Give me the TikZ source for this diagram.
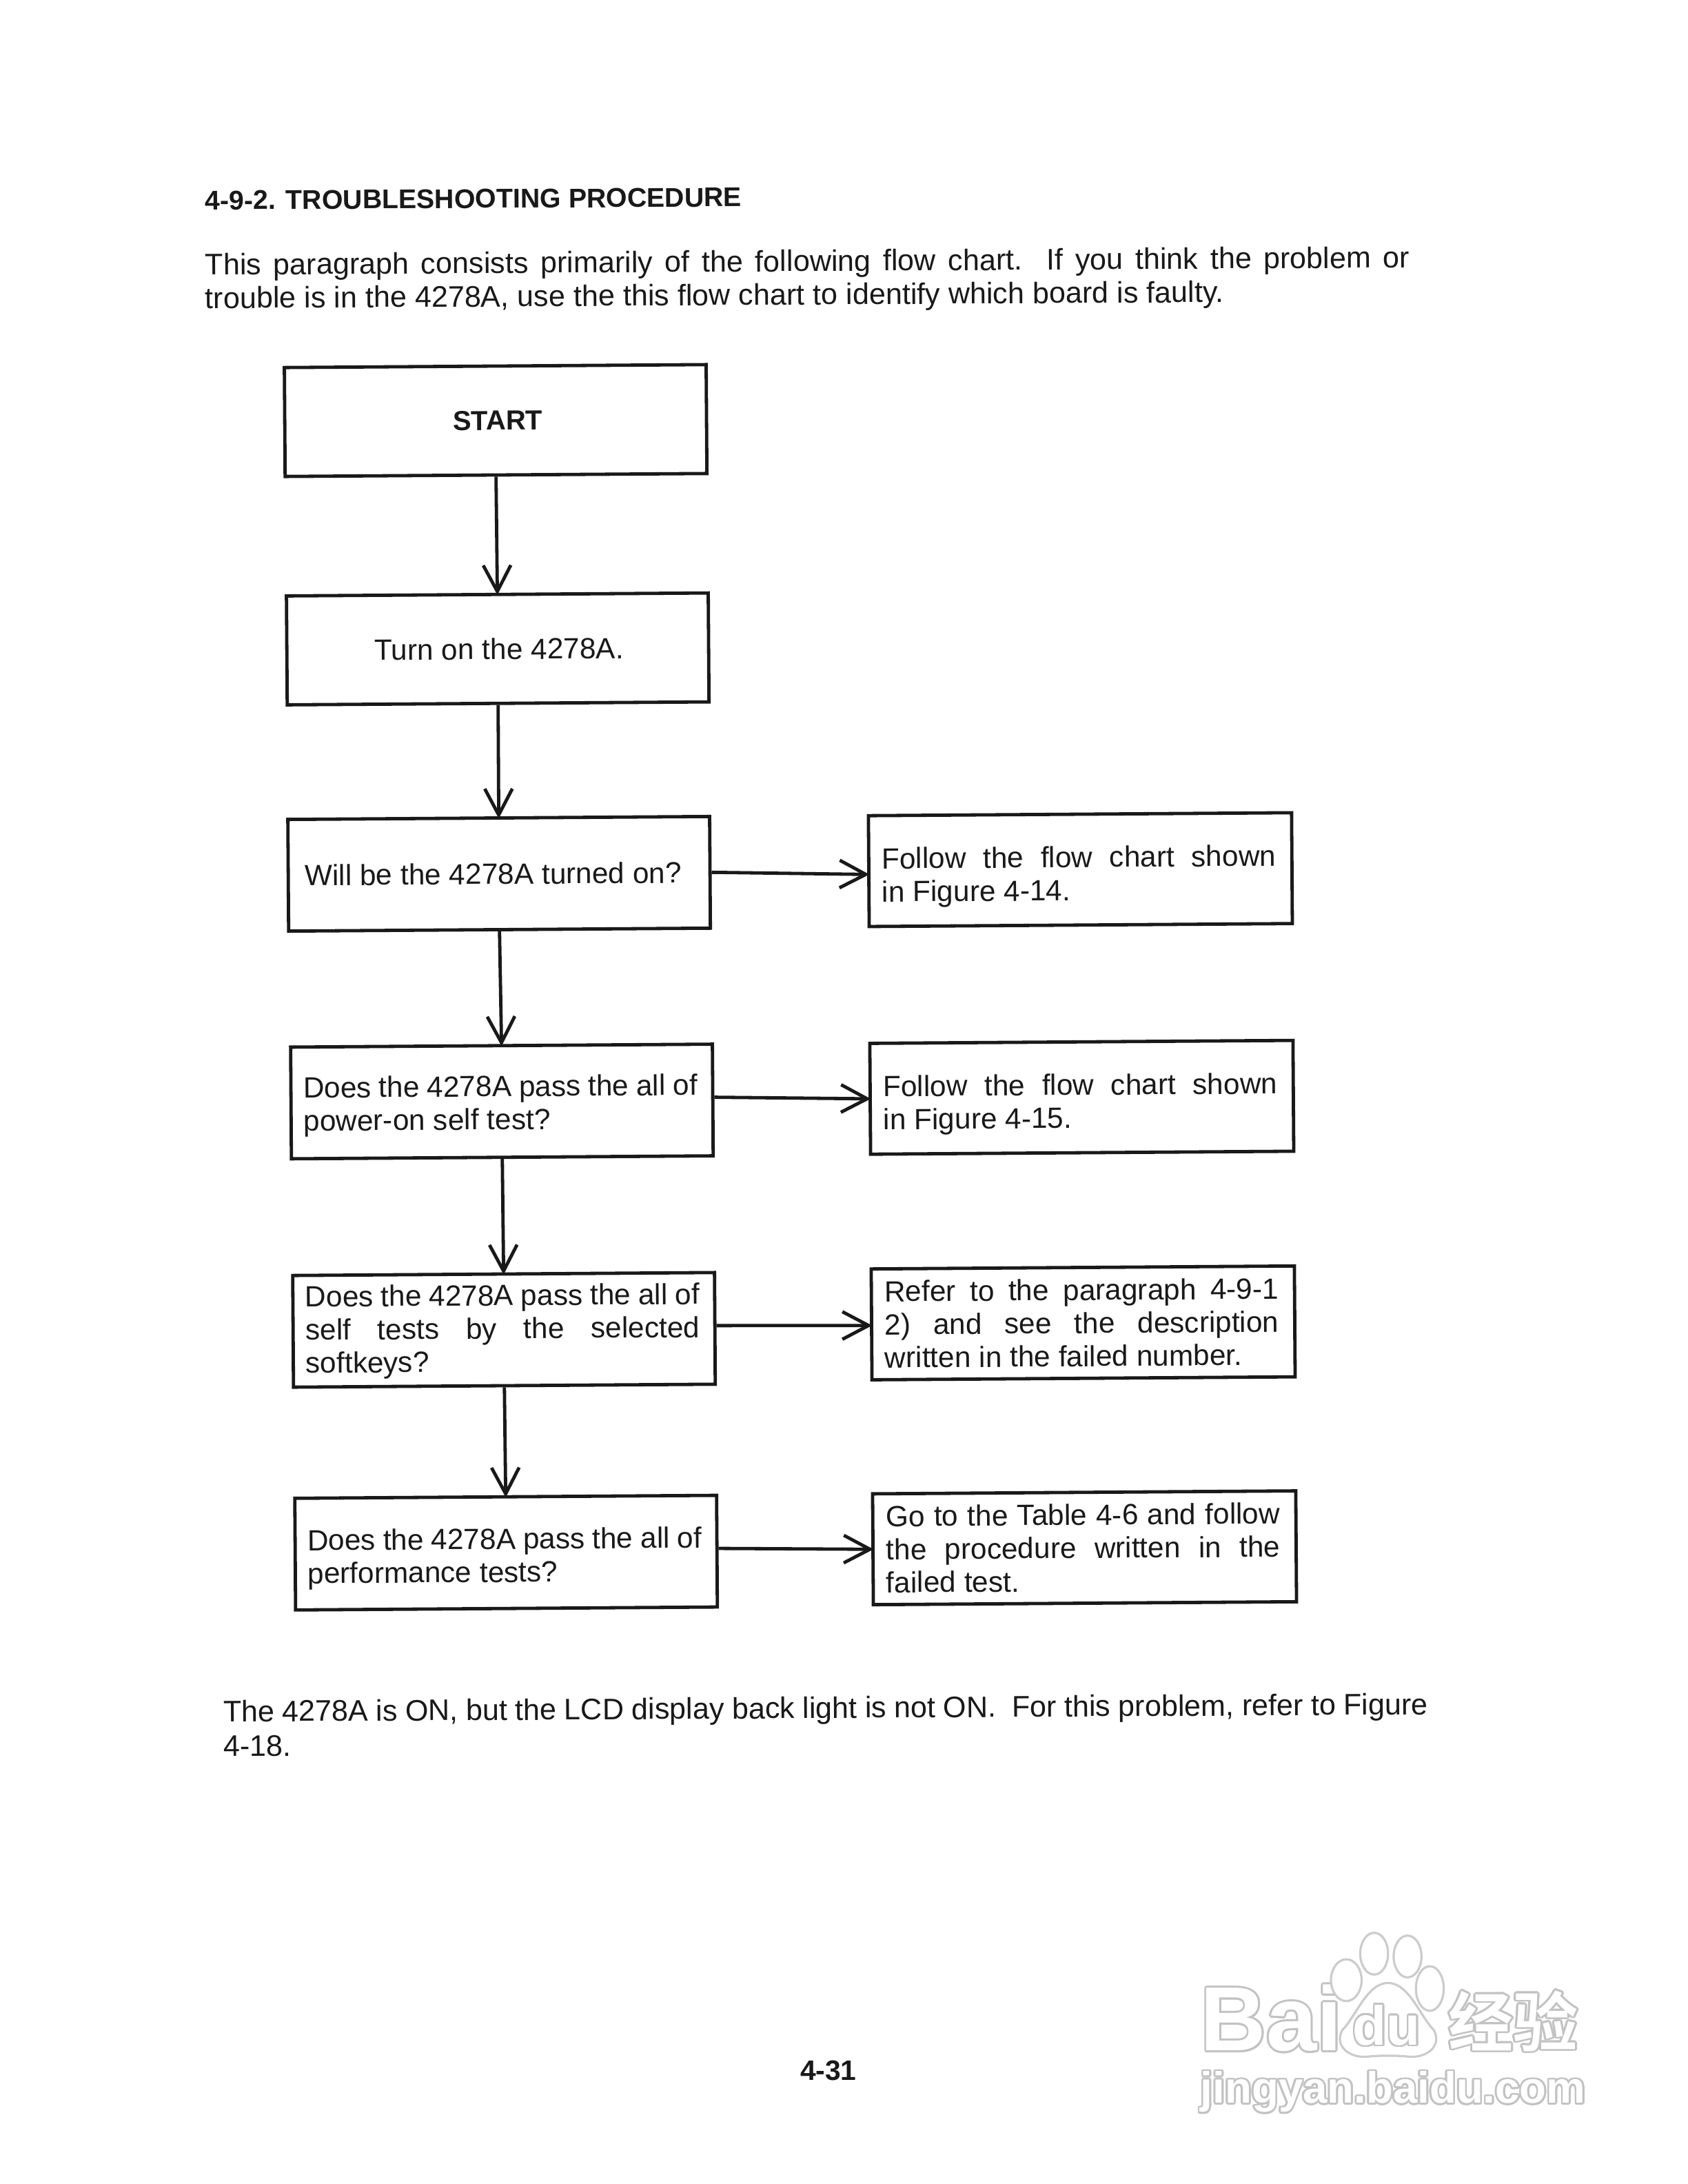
\documentclass[tikz,border=0pt]{standalone}
\usepackage{fontspec}
\setmainfont{Liberation Sans}
\newfontfamily\cjkfont{Noto Sans CJK SC}[BoldFont={* Bold}]
\usepackage[copies]{contour}
\usetikzlibrary{arrows.meta,calc}
\contourlength{0.7pt}
\contournumber{16}
\newcommand{\spreadline}[2]{\makebox[#1][s]{\spaceskip=.278em plus 1em minus .1em\relax #2}}
\newcommand{\plainline}[1]{\makebox[144pt][l]{\spaceskip=.278em\relax #1}}
\newcommand{\dn}[1]{\rule{0pt}{#1}}
\newcommand{\wm}[1]{\contour{black!24}{\textcolor{white}{#1}}}
\tikzset{
  ink/.style={line width=1.2pt,draw=black!90},
  flowbox/.style={ink,rectangle,rotate=0.4,inner xsep=0pt,inner ysep=0pt,font=\fontsize{10.6}{12}\selectfont,text=black!90},
  leftbox/.style={flowbox,minimum width=153pt,minimum height=40.5pt,align=left,text width=144pt},
  centerbox/.style={flowbox,minimum width=153pt,minimum height=39.5pt,align=center},
  rightbox/.style={flowbox,minimum width=153.5pt,minimum height=40.2pt,align=left,text width=144pt},
  conn/.style={ink,shorten >=-0.8pt,-{Straight Barb[length=9.5pt,width=10pt,line width=1.2pt]}},
  para/.style={anchor=west,rotate=0.35,inner sep=0pt,font=\fontsize{10.78}{12}\selectfont,text=black!90},
  wmline/.style={draw=black!20,fill=white,line width=0.8pt},
  wmtext/.style={inner sep=0pt}
}
\begin{document}
\begin{tikzpicture}[x=0.505pt,y=-0.505pt]
\useasboundingbox (0,0) rectangle (1212,1568.4);
\fill[white] (0,0) rectangle (1212,1568.4);

% page text
\node[para,font=\bfseries\fontsize{9.82}{12}\selectfont] (title) at (147,144) {4-9-2. TROUBLESHOOTING PROCEDURE};
\node[para,text width=437pt] (p1a) at (147,192) {\spreadline{437pt}{This paragraph consists primarily of the following flow chart.\ \ If you think the problem or}};
\node[para] (p1b) at (147,216) {trouble is in the 4278A, use the this flow chart to identify which board is faulty.};
\node[para,text width=437pt] (p2a) at (160,1231) {\spreadline{437pt}{The 4278A is ON, but the LCD display back light is not ON.\ \ For this problem, refer to Figure}};
\node[para] (p2b) at (160,1254) {4-18.};
\node[inner sep=0pt,font=\bfseries\fontsize{10.2}{12}\selectfont,text=black!90] (pageno) at (595,1487) {4-31};

% left column
\node[centerbox,font=\bfseries\fontsize{10}{12}\selectfont] (start) at (356,302) {\hspace*{1.5pt}START};
\node[centerbox] (turn) at (357.5,466) {\hspace*{1pt}Turn on the 4278A.};
\node[leftbox] (will) at (358.5,627.5) {\plainline{\hspace*{1.5pt}Will be the 4278A turned on?}};
\node[leftbox] (pon) at (360.5,791) {\dn{10.6pt}\spreadline{143pt}{Does the 4278A pass the all of}\\\plainline{power-on self test?}};
\node[leftbox] (self) at (362,955) {\dn{8.6pt}\spreadline{143pt}{Does the 4278A pass the all of}\\\spreadline{143pt}{self tests by the selected}\\\plainline{softkeys?}};
\node[leftbox] (perf) at (363.5,1115) {\dn{11.6pt}\spreadline{143pt}{Does the 4278A pass the all of}\\\plainline{performance tests?}};

% right column
\node[rightbox] (r1) at (776,624.5) {\dn{12.6pt}\spreadline{143pt}{Follow the flow chart shown}\\\plainline{in Figure 4-14.}};
\node[rightbox] (r2) at (777,788) {\dn{12.6pt}\spreadline{143pt}{Follow the flow chart shown}\\\plainline{in Figure 4-15.}};
\node[rightbox] (r3) at (778,950) {\spreadline{143pt}{Refer to the paragraph 4-9-1}\\\spreadline{143pt}{2) and see the description}\\\plainline{written in the failed number.}};
\node[rightbox] (r4) at (779,1111.5) {\spreadline{143pt}{Go to the Table 4-6 and follow}\\\spreadline{143pt}{the procedure written in the}\\\plainline{failed test.}};

% connectors
\draw[conn] (start.south) -- (turn.north);
\draw[conn] (turn.south) -- (will.north);
\draw[conn] (will.south) -- (pon.north);
\draw[conn] (pon.south) -- (self.north);
\draw[conn] (self.south) -- (perf.north);
\draw[conn] (will.east) -- ([yshift=-1.2pt]r1.west);
\draw[conn] ([yshift=1pt]pon.east) -- (r2.west);
\draw[conn] ([yshift=1pt]self.east) -- ([yshift=-0.4pt]r3.west);
\draw[conn] ([yshift=1pt]perf.east) -- (r4.west);

% watermark
\node[wmtext,anchor=west,font=\bfseries\fontsize{33}{33}\selectfont] (wmbai) at (862,1450) {\wm{Bai}};
\draw[wmline] (967,1422) ellipse (11 and 15);
\draw[wmline] (987,1403) ellipse (10 and 15);
\draw[wmline] (1011,1405) ellipse (10 and 15);
\draw[wmline] (1027,1428) ellipse (10 and 16);
\draw[wmline] (997,1424) .. controls (1012,1424) and (1020,1448) .. (1030,1458)
  .. controls (1036,1470) and (1024,1478) .. (1012,1477)
  .. controls (1005,1476) and (990,1476) .. (982,1477)
  .. controls (970,1478) and (958,1470) .. (964,1458)
  .. controls (974,1448) and (982,1424) .. (997,1424) -- cycle;
\node[wmtext,font=\bfseries\fontsize{20}{20}\selectfont] (wmdu) at (996,1455) {\wm{du}};
\node[wmtext,anchor=west,font=\cjkfont\bfseries\fontsize{23.5}{24}\selectfont] (wmjy) at (1040,1452) {\wm{经验}};
\node[wmtext,anchor=west,font=\bfseries\fontsize{15.9}{16}\selectfont] (wmurl) at (862,1503) {\wm{jingyan.baidu.com}};
\end{tikzpicture}
\end{document}
